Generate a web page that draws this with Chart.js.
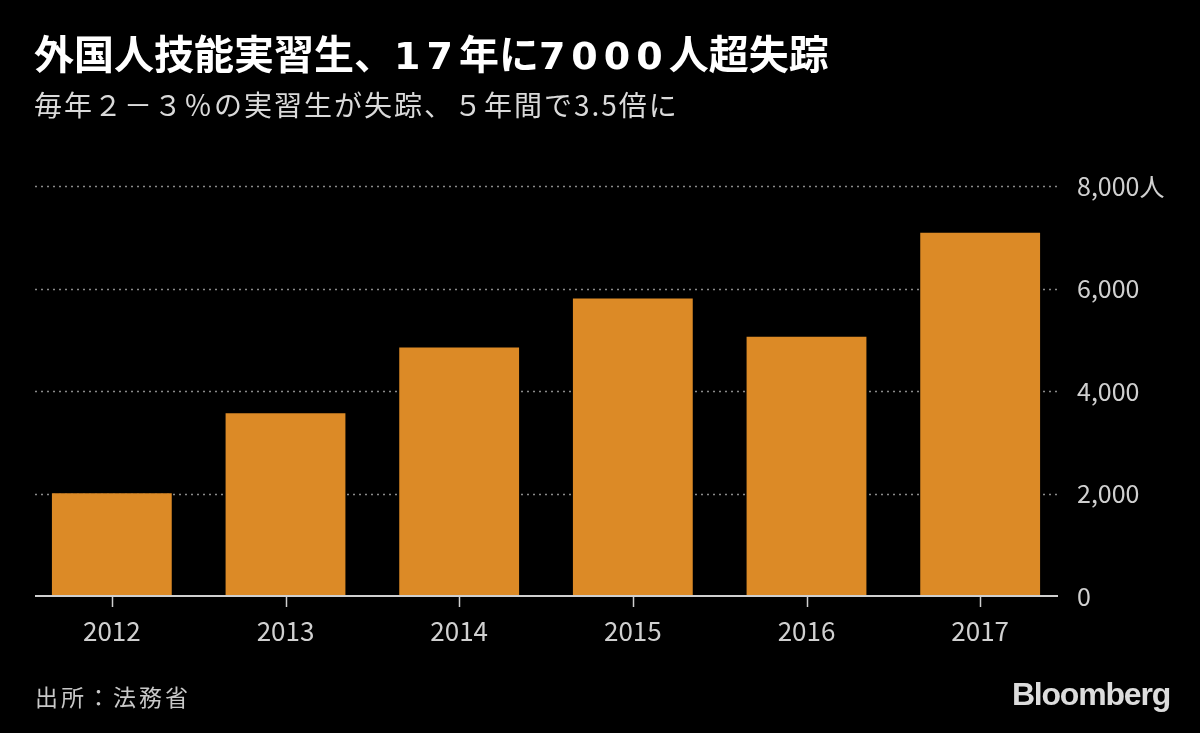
<!DOCTYPE html>
<html>
<head>
<meta charset="utf-8">
<script src="https://cdn.jsdelivr.net/npm/chart.js@4"></script>
<style>
  html, body { margin: 0; padding: 0; background: #000; }
  #wrap { position: relative; width: 1200px; height: 733px; background: #000; overflow: hidden; }
  #chartCanvas { position: absolute; left: 0; top: 0; }
  .txt { position: absolute; font-family: "Noto Sans CJK JP", "Noto Sans", sans-serif; white-space: nowrap; }
  #title { left: 34px; top: 23px; font-size: 40px; font-weight: 700; color: #fff; }
  #title .num { font-family: "DejaVu Sans", "Noto Sans", sans-serif; font-size: 38px; letter-spacing: 6px; }
  #subtitle { left: 34px; top: 84px; font-size: 28px; color: #dadada; letter-spacing: 2px; }
  #source { left: 35px; top: 679px; font-size: 23px; color: #c8c8c8; letter-spacing: 3px; }
  #logo { right: 30px; top: 676px; font-family: "Liberation Sans", Arial, sans-serif; font-size: 32px; font-weight: 700; color: #dcdcdc; letter-spacing: -1.2px; }
</style>
</head>
<body>
<div id="wrap">
  <canvas id="chartCanvas" width="1200" height="733"></canvas>
  <div class="txt" id="title">外国人技能実習生、<span class="num">17</span>年に<span class="num">7000</span>人超失踪</div>
  <div class="txt" id="subtitle">毎年２－３％の実習生が失踪、５年間で3.5倍に</div>
  <div class="txt" id="source">出所：法務省</div>
  <div class="txt" id="logo">Bloomberg</div>
</div>
<script>
const years = ['2012', '2013', '2014', '2015', '2016', '2017'];
const missing = [2005, 3566, 4851, 5803, 5058, 7089];
const yTicks = [0, 2000, 4000, 6000, 8000];

document.addEventListener('DOMContentLoaded', () => {
    const ctx = document.getElementById('chartCanvas').getContext('2d');

    // dotted grid under the bars, baseline + small x ticks on top
    const gridPlugin = {
        id: 'bbgGrid',
        beforeDatasetsDraw(chart) {
            const c = chart.ctx;
            const y = chart.scales.y;
            c.save();
            c.strokeStyle = '#8a8a8a';
            c.lineWidth = 1.5;
            c.setLineDash([2, 4]);
            yTicks.forEach(v => {
                if (v === 0) return;
                const py = Math.round(y.getPixelForValue(v)) + 0.5;
                c.beginPath();
                c.moveTo(35, py);
                c.lineTo(1058, py);
                c.stroke();
            });
            c.restore();
        },
        afterDatasetsDraw(chart) {
            const c = chart.ctx;
            const y = chart.scales.y;
            const x = chart.scales.x;
            const base = Math.round(y.getPixelForValue(0));
            c.save();
            c.strokeStyle = '#cfcfcf';
            c.lineWidth = 2;
            c.beginPath();
            c.moveTo(35, base);
            c.lineTo(1058, base);
            c.stroke();
            c.lineWidth = 1.5;
            years.forEach((yr, i) => {
                const px = Math.round(x.getPixelForValue(i)) + 0.5;
                c.beginPath();
                c.moveTo(px, base);
                c.lineTo(px, base + 11);
                c.stroke();
            });
            c.restore();
        }
    };

    new Chart(ctx, {
        type: 'bar',
        data: {
            labels: years,
            datasets: [{
                data: missing,
                backgroundColor: '#dc8a26',
                borderWidth: 0,
                barPercentage: 0.69,
                categoryPercentage: 1.0
            }]
        },
        options: {
            responsive: false,
            animation: false,
            devicePixelRatio: 1,
            layout: { padding: { left: 25, right: 0, top: 186, bottom: 0 } },
            plugins: {
                legend: { display: false },
                tooltip: { enabled: false }
            },
            scales: {
                x: {
                    grid: { display: false, drawTicks: false },
                    border: { display: false },
                    ticks: {
                        color: '#d0d0d0',
                        padding: 20,
                        font: { family: '"Noto Sans CJK JP", "Noto Sans", sans-serif', size: 26 }
                    },
                    afterFit(scale) { scale.height = 137; }
                },
                y: {
                    position: 'right',
                    min: 0,
                    max: 8000,
                    afterBuildTicks(scale) { scale.ticks = yTicks.map(v => ({ value: v })); },
                    grid: { display: false, drawTicks: false },
                    border: { display: false },
                    ticks: {
                        color: '#d0d0d0',
                        padding: 10,
                        font: { family: '"Noto Sans CJK JP", "Noto Sans", sans-serif', size: 25 },
                        callback: v => v === 8000 ? '8,000人' : v.toLocaleString('en-US')
                    },
                    afterFit(scale) { scale.width = 133; }
                }
            }
        },
        plugins: [gridPlugin]
    });
});
</script>
</body>
</html>
